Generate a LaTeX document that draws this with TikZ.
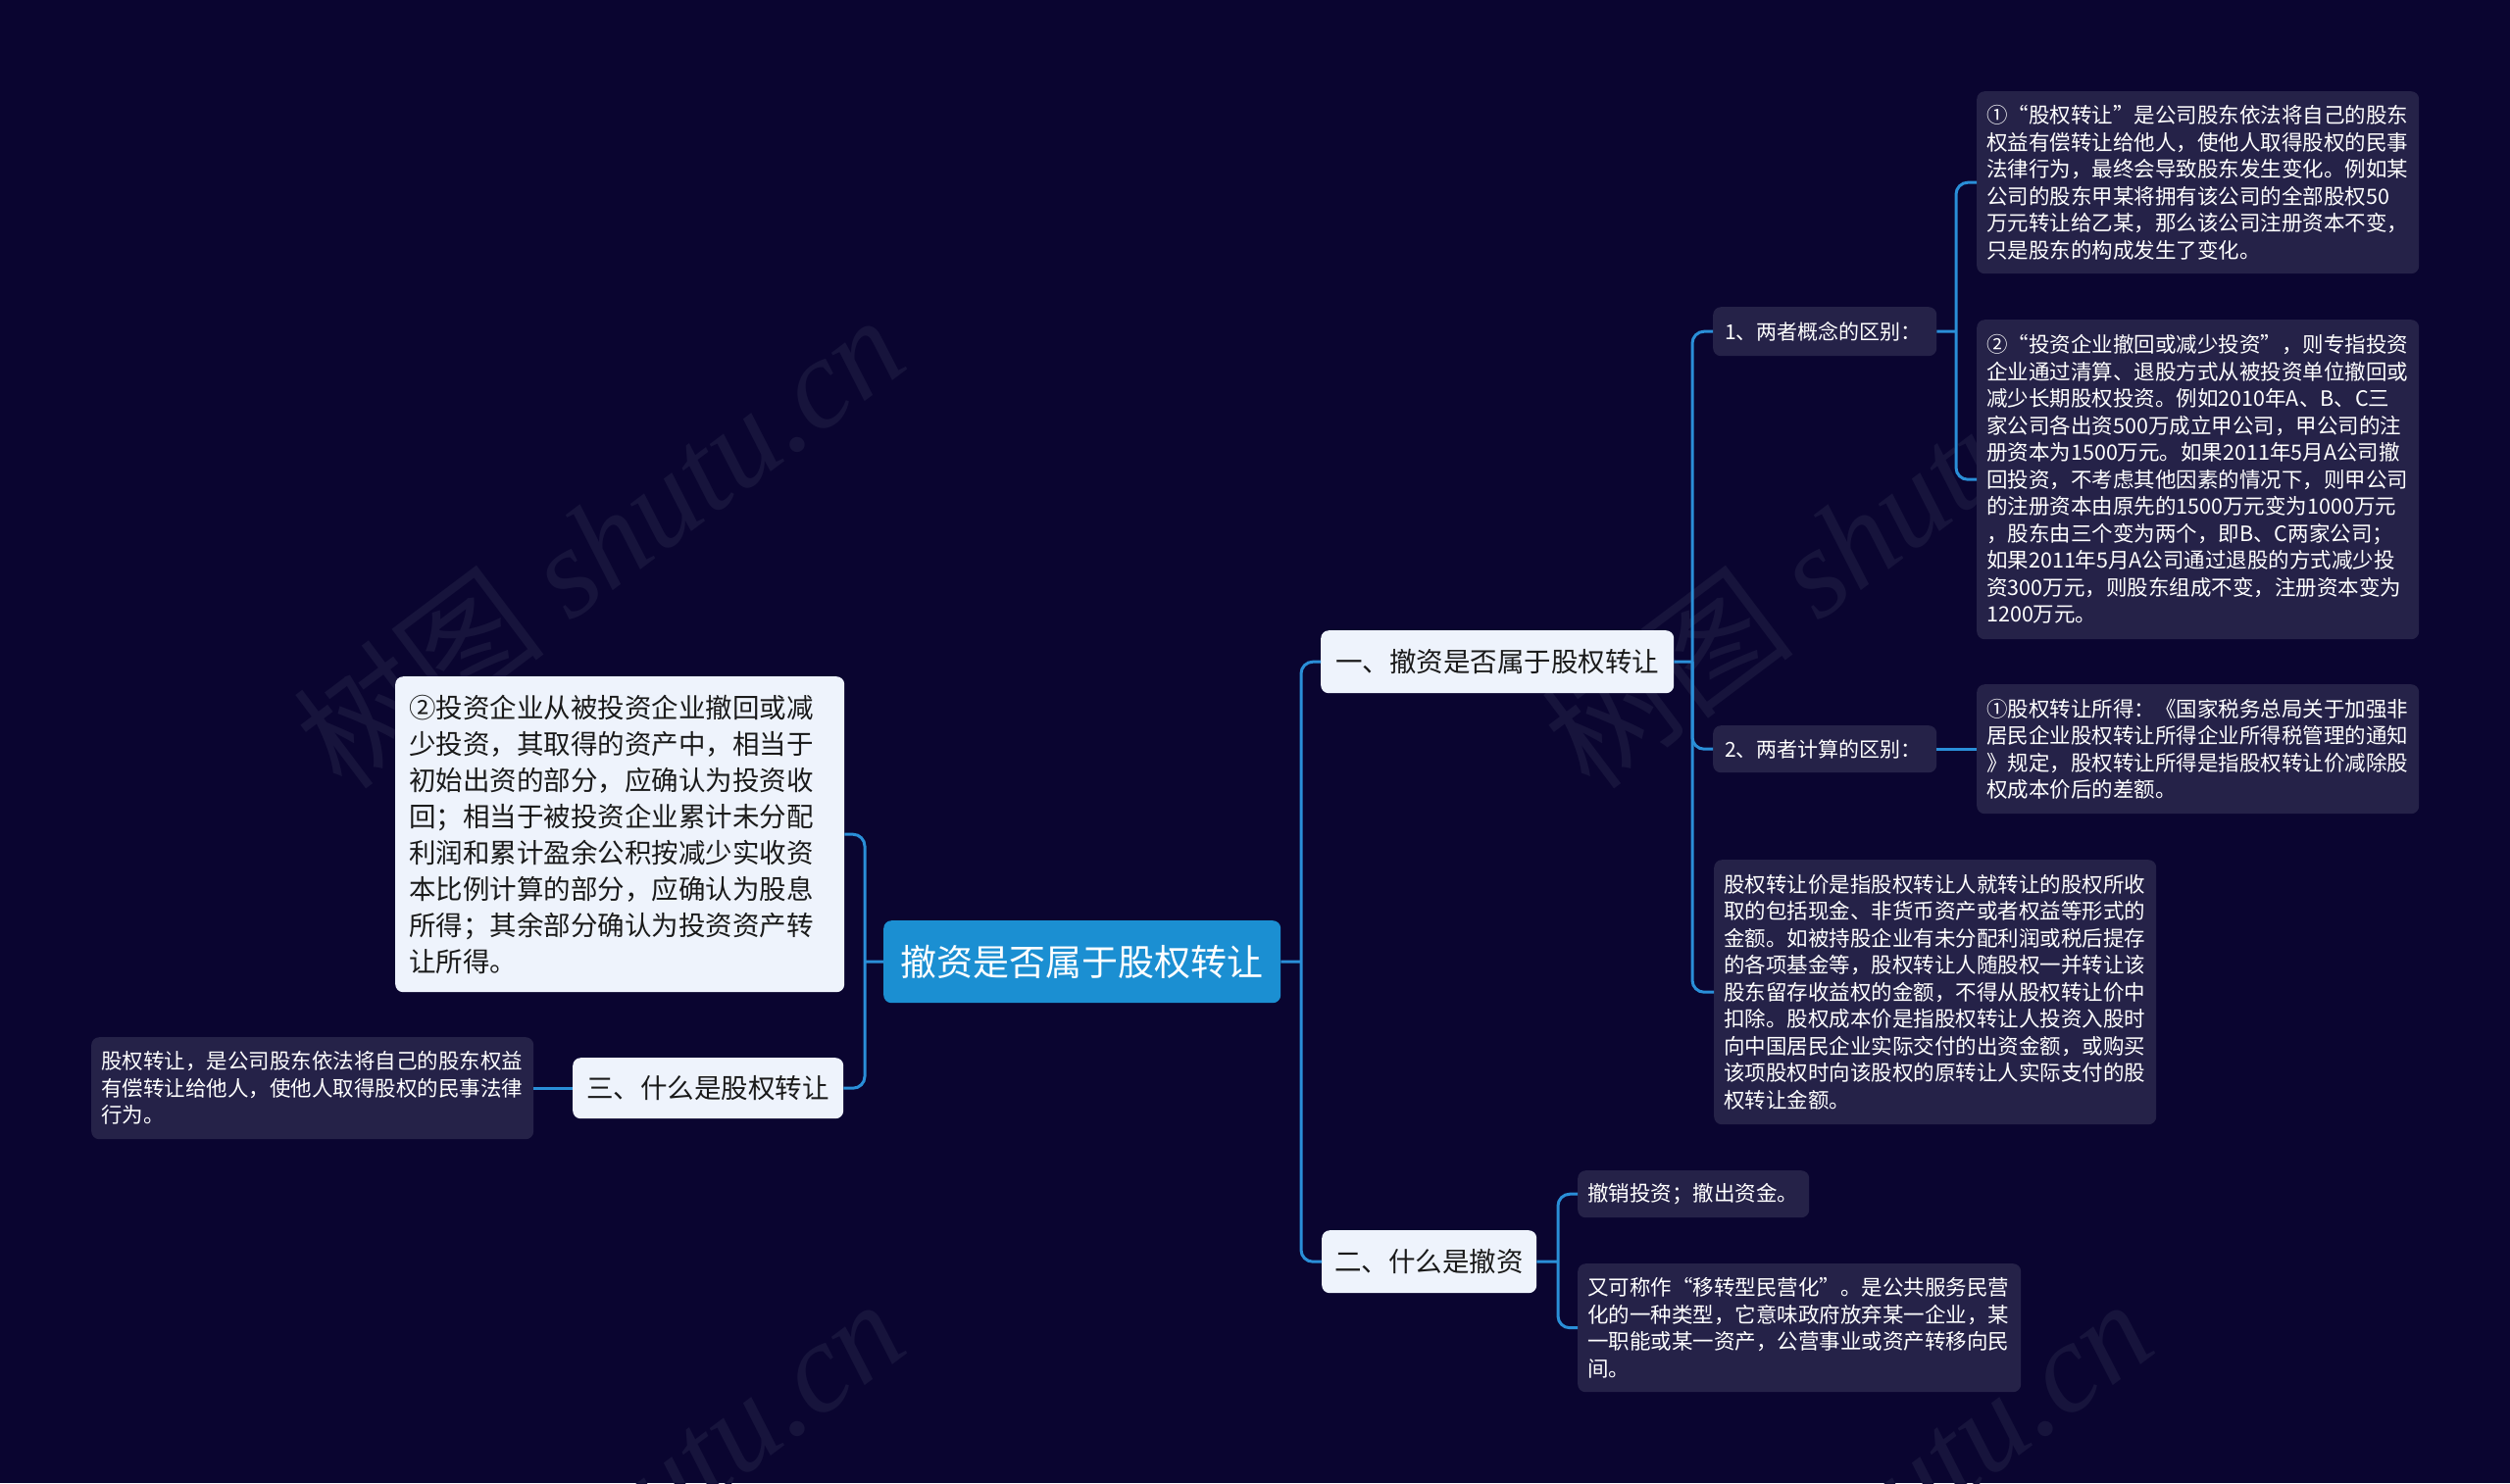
\documentclass[tikz,border=0pt]{standalone}
\usepackage{fontspec}
\setmainfont{Noto Sans CJK SC}
\newfontfamily\wmlatin{Liberation Serif}
\definecolor{bgc}{HTML}{0A0530}
\definecolor{leafc}{HTML}{252248}
\definecolor{lightc}{HTML}{EEF3FC}
\definecolor{rootc}{HTML}{1B8FD2}
\definecolor{linec}{HTML}{2A8FD8}
\definecolor{darktext}{HTML}{1A1A1A}
\definecolor{wmc}{HTML}{17143C}
\begin{document}
\begin{tikzpicture}[x=1pt,y=-1pt,
  basebox/.style={inner ysep=0pt, rounded corners=8pt, anchor=north west},
  darkbox/.style={basebox, fill=leafc, text=white, align=left, inner xsep=10pt,
    font=\fontsize{21.5}{27.5}\selectfont},
  lightbox/.style={basebox, fill=lightc, text=darktext, inner xsep=0pt,
    font=\fontsize{27.5}{37}\selectfont},
  conn/.style={draw=linec, line width=3pt, rounded corners=12pt},
  wmark/.style={text=wmc, anchor=base west, rotate=37, inner sep=0pt,
    font=\fontsize{130}{130}\selectfont}
]
\useasboundingbox (0,0) rectangle (2560,1513);
\fill[bgc] (0,0) rectangle (2560,1513);

% watermarks
\begin{scope}
\clip (0,0) rectangle (2560,1513);
\node[wmark] (wm1) at (350,810) {树图 {\wmlatin\itshape shutu.cn}};
\node[wmark] (wm2) at (1623,810) {树图 {\wmlatin\itshape shutu.cn}};
\node[wmark] (wm3) at (350,1814) {树图 {\wmlatin\itshape shutu.cn}};
\node[wmark] (wm4) at (1623,1814) {树图 {\wmlatin\itshape shutu.cn}};
\end{scope}

% root
\node[basebox, fill=rootc, text=white, inner xsep=0pt, minimum width=405pt, minimum height=84pt,
  font=\fontsize{37}{44}\selectfont] (root) at (901,939) {撤资是否属于股权转让};

% main branches
\node[lightbox, minimum width=360pt, minimum height=64pt] (n1) at (1347,643) {一、撤资是否属于股权转让};
\node[lightbox, minimum width=219pt, minimum height=64pt] (n2) at (1348,1255) {二、什么是撤资};
\node[lightbox, minimum width=276pt, minimum height=62pt] (san) at (584,1079) {三、什么是股权转让};
\node[lightbox, align=left, inner xsep=14pt, text width=430pt, minimum height=322pt] (inv) at (403,690)
{②投资企业从被投资企业撤回或减\\
少投资，其取得的资产中，相当于\\
初始出资的部分，应确认为投资收\\
回；相当于被投资企业累计未分配\\
利润和累计盈余公积按减少实收资\\
本比例计算的部分，应确认为股息\\
所得；其余部分确认为投资资产转\\
让所得。};

% sub branches
\node[darkbox, font=\fontsize{21}{27}\selectfont, inner xsep=12pt, text width=204pt, minimum height=50pt] (c1) at (1747,313) {1、两者概念的区别：};
\node[darkbox, font=\fontsize{21}{27}\selectfont, inner xsep=12pt, text width=204pt, minimum height=48pt] (c2) at (1747,740) {2、两者计算的区别：};

\node[darkbox, text width=431pt, minimum height=186pt] (l1) at (2016,93)
{①“股权转让”是公司股东依法将自己的股东\\
权益有偿转让给他人，使他人取得股权的民事\\
法律行为，最终会导致股东发生变化。例如某\\
公司的股东甲某将拥有该公司的全部股权50\\
万元转让给乙某，那么该公司注册资本不变，\\
只是股东的构成发生了变化。};

\node[darkbox, text width=431pt, minimum height=326pt] (l2) at (2016,326)
{②“投资企业撤回或减少投资”，则专指投资\\
企业通过清算、退股方式从被投资单位撤回或\\
减少长期股权投资。例如2010年A、B、C三\\
家公司各出资500万成立甲公司，甲公司的注\\
册资本为1500万元。如果2011年5月A公司撤\\
回投资，不考虑其他因素的情况下，则甲公司\\
的注册资本由原先的1500万元变为1000万元\\
，股东由三个变为两个，即B、C两家公司；\\
如果2011年5月A公司通过退股的方式减少投\\
资300万元，则股东组成不变，注册资本变为\\
1200万元。};

\node[darkbox, text width=431pt, minimum height=132pt] (l3) at (2016,698)
{①股权转让所得：《国家税务总局关于加强非\\
居民企业股权转让所得企业所得税管理的通知\\
》规定，股权转让所得是指股权转让价减除股\\
权成本价后的差额。};

\node[darkbox, text width=431pt, minimum height=270pt] (price) at (1748,877)
{股权转让价是指股权转让人就转让的股权所收\\
取的包括现金、非货币资产或者权益等形式的\\
金额。如被持股企业有未分配利润或税后提存\\
的各项基金等，股权转让人随股权一并转让该\\
股东留存收益权的金额，不得从股权转让价中\\
扣除。股权成本价是指股权转让人投资入股时\\
向中国居民企业实际交付的出资金额，或购买\\
该项股权时向该股权的原转让人实际支付的股\\
权转让金额。};

\node[darkbox, text width=216pt, minimum height=48pt] (w1) at (1609,1194) {撤销投资；撤出资金。};

\node[darkbox, text width=432pt, minimum height=131pt] (w2) at (1609,1289)
{又可称作“移转型民营化”。是公共服务民营\\
化的一种类型，它意味政府放弃某一企业，某\\
一职能或某一资产，公营事业或资产转移向民\\
间。};

\node[darkbox, text width=431pt, minimum height=104pt] (sleaf) at (93,1058)
{股权转让，是公司股东依法将自己的股东权益\\
有偿转让给他人，使他人取得股权的民事法律\\
行为。};

% junction coordinates
\coordinate (tR) at (1327,981);
\coordinate (tL) at (882,981);
\coordinate (t1) at (1726,675);
\coordinate (t2) at (1995,338);
\coordinate (t4) at (1589,1287);

% connectors
\draw[conn] (root.east) -- (tR);
\draw[conn] (n1.west) -| (tR) |- (n2.west);
\draw[conn] (root.west) -- (tL);
\draw[conn] (inv.east) -| (tL) |- (san.east);
\draw[conn] (n1.east) -- (t1);
\draw[conn] (c1.west) -| (t1) |- (price.west);
\draw[conn] (t1) |- (c2.west);
\draw[conn] (c1.east) -- (t2);
\draw[conn] (l1.west) -| (t2) |- (l2.west);
\draw[conn] (c2.east) -- (l3.west);
\draw[conn] (n2.east) -- (t4);
\draw[conn] (w1.west) -| (t4) |- (w2.west);
\draw[conn] (san.west) -- (sleaf.east);
\end{tikzpicture}
\end{document}
